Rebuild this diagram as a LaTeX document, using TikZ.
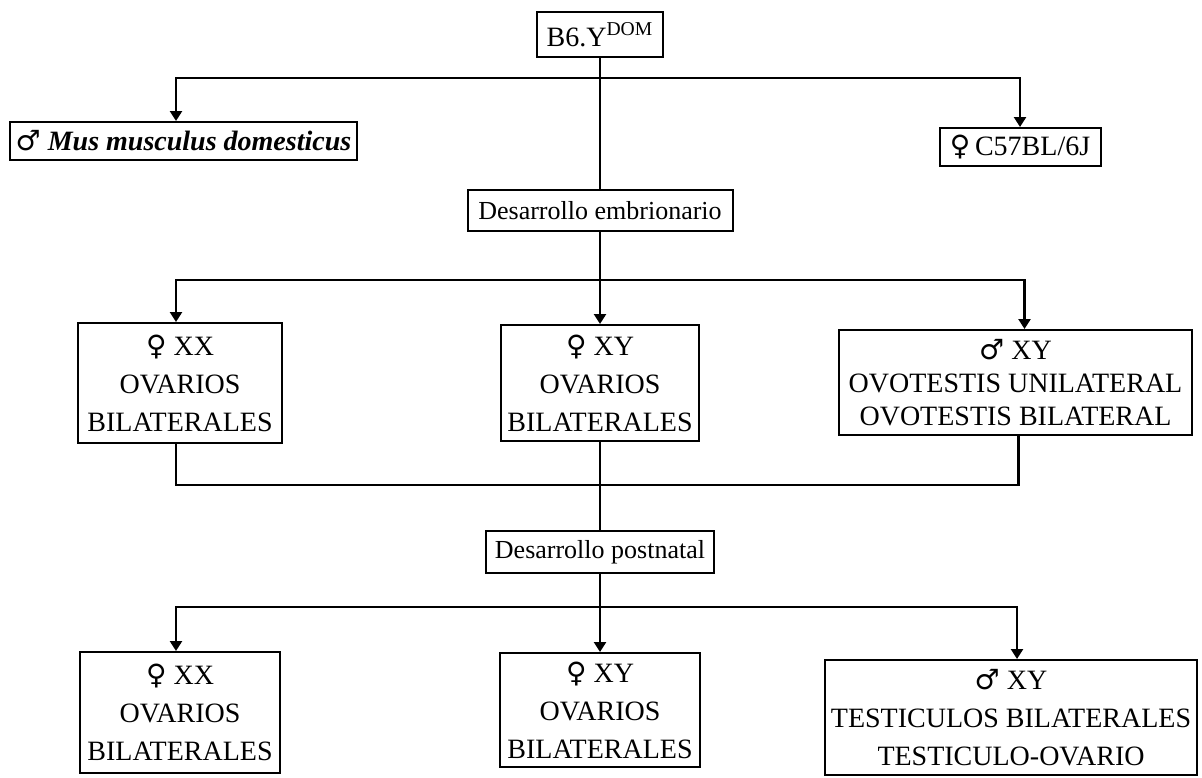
\documentclass[tikz,border=0pt]{standalone}
\usepackage{fontspec}
\setmainfont{Liberation Serif}
\newfontfamily\symfont{DejaVu Sans}
\newcommand{\hembra}{{\symfont ♀}}
\newcommand{\macho}{{\symfont ♂}}
\usetikzlibrary{arrows.meta, positioning, calc}
\tikzset{
    gbox/.style={rectangle, draw=black, line width=1pt, fill=white,
                 align=center, inner sep=0pt,
                 font=\fontsize{14}{19}\selectfont},
    sbox/.style={gbox, font=\fontsize{13}{15}\selectfont},
    arr/.style={-{Triangle[width=6pt,length=5pt]}, line width=1.2pt},
    ln/.style={line width=1.2pt}
}

\begin{document}
\begin{tikzpicture}[x=0.5pt, y=-0.5pt]
\useasboundingbox (0,0) rectangle (1202,777);

\node[gbox, minimum width=63pt, minimum height=22.5pt] at (600,34.5) (b6)
    {B6.Y\textsuperscript{DOM}};
\node[gbox, minimum width=173.5pt, minimum height=19pt] at (183.5,141) (mus)
    {\macho\ \textbf{\textit{Mus musculus domesticus}}};
\node[gbox, minimum width=80.5pt, minimum height=19pt] at (1020,147) (c57)
    {\hembra\,C57BL/6J};
\node[sbox, minimum width=132.5pt, minimum height=20.5pt] at (600,210.5) (emb)
    {Desarrollo embrionario};

% dia embrionario
\node[gbox, minimum width=102pt, minimum height=60pt] at (180,383) (xx1)
    {\hembra\ XX\\OVARIOS\\BILATERALES};
\node[gbox, minimum width=99pt, minimum height=58pt] at (600,383) (xy1)
    {\hembra\ XY\\OVARIOS\\BILATERALES};
\node[gbox, minimum width=176.5pt, minimum height=52.5pt,
      font=\fontsize{14}{16.5}\selectfont] at (1015.5,382.5) (ovo)
    {\macho\ XY\\OVOTESTIS UNILATERAL\\OVOTESTIS BILATERAL};

\node[sbox, minimum width=114pt, minimum height=21pt] at (600,552) (post)
    {Desarrollo postnatal};

% postnatal
\node[gbox, minimum width=100pt, minimum height=60.5pt] at (180,712.5) (xx2)
    {\hembra\ XX\\OVARIOS\\BILATERALES};
\node[gbox, minimum width=100pt, minimum height=57pt] at (600,710) (xy2)
    {\hembra\ XY\\OVARIOS\\BILATERALES};
\node[gbox, minimum width=186pt, minimum height=57.5pt] at (1011,717.5) (tes)
    {\macho\ XY\\TESTICULOS BILATERALES\\TESTICULO-OVARIO};

\coordinate (j1) at (600,78);
\coordinate (j2) at (600,280);
\coordinate (j3) at (600,485);
\coordinate (j4) at (600,607);
\coordinate (colL) at (176,0);

\draw[ln]  (b6) -- (emb);
\draw[arr] (j1) -| (mus.north -| colL);
\draw[arr] (j1) -| (c57);

\draw[arr] (emb) -- (xy1);
\draw[arr] (j2) -| (xx1.north -| colL);
\draw[arr] (j2) -| ([xshift=4.5pt]ovo.north);

\draw[ln] (xx1.south -| colL) |- (j3) -| ([xshift=1.5pt]ovo.south);
\draw[ln] (xy1) -- (post);

\draw[arr] (post) -- (xy2);
\draw[arr] (j4) -| (xx2.north -| colL);
\draw[arr] (j4) -| ([xshift=3pt]tes.north);
\end{tikzpicture}
\end{document}
